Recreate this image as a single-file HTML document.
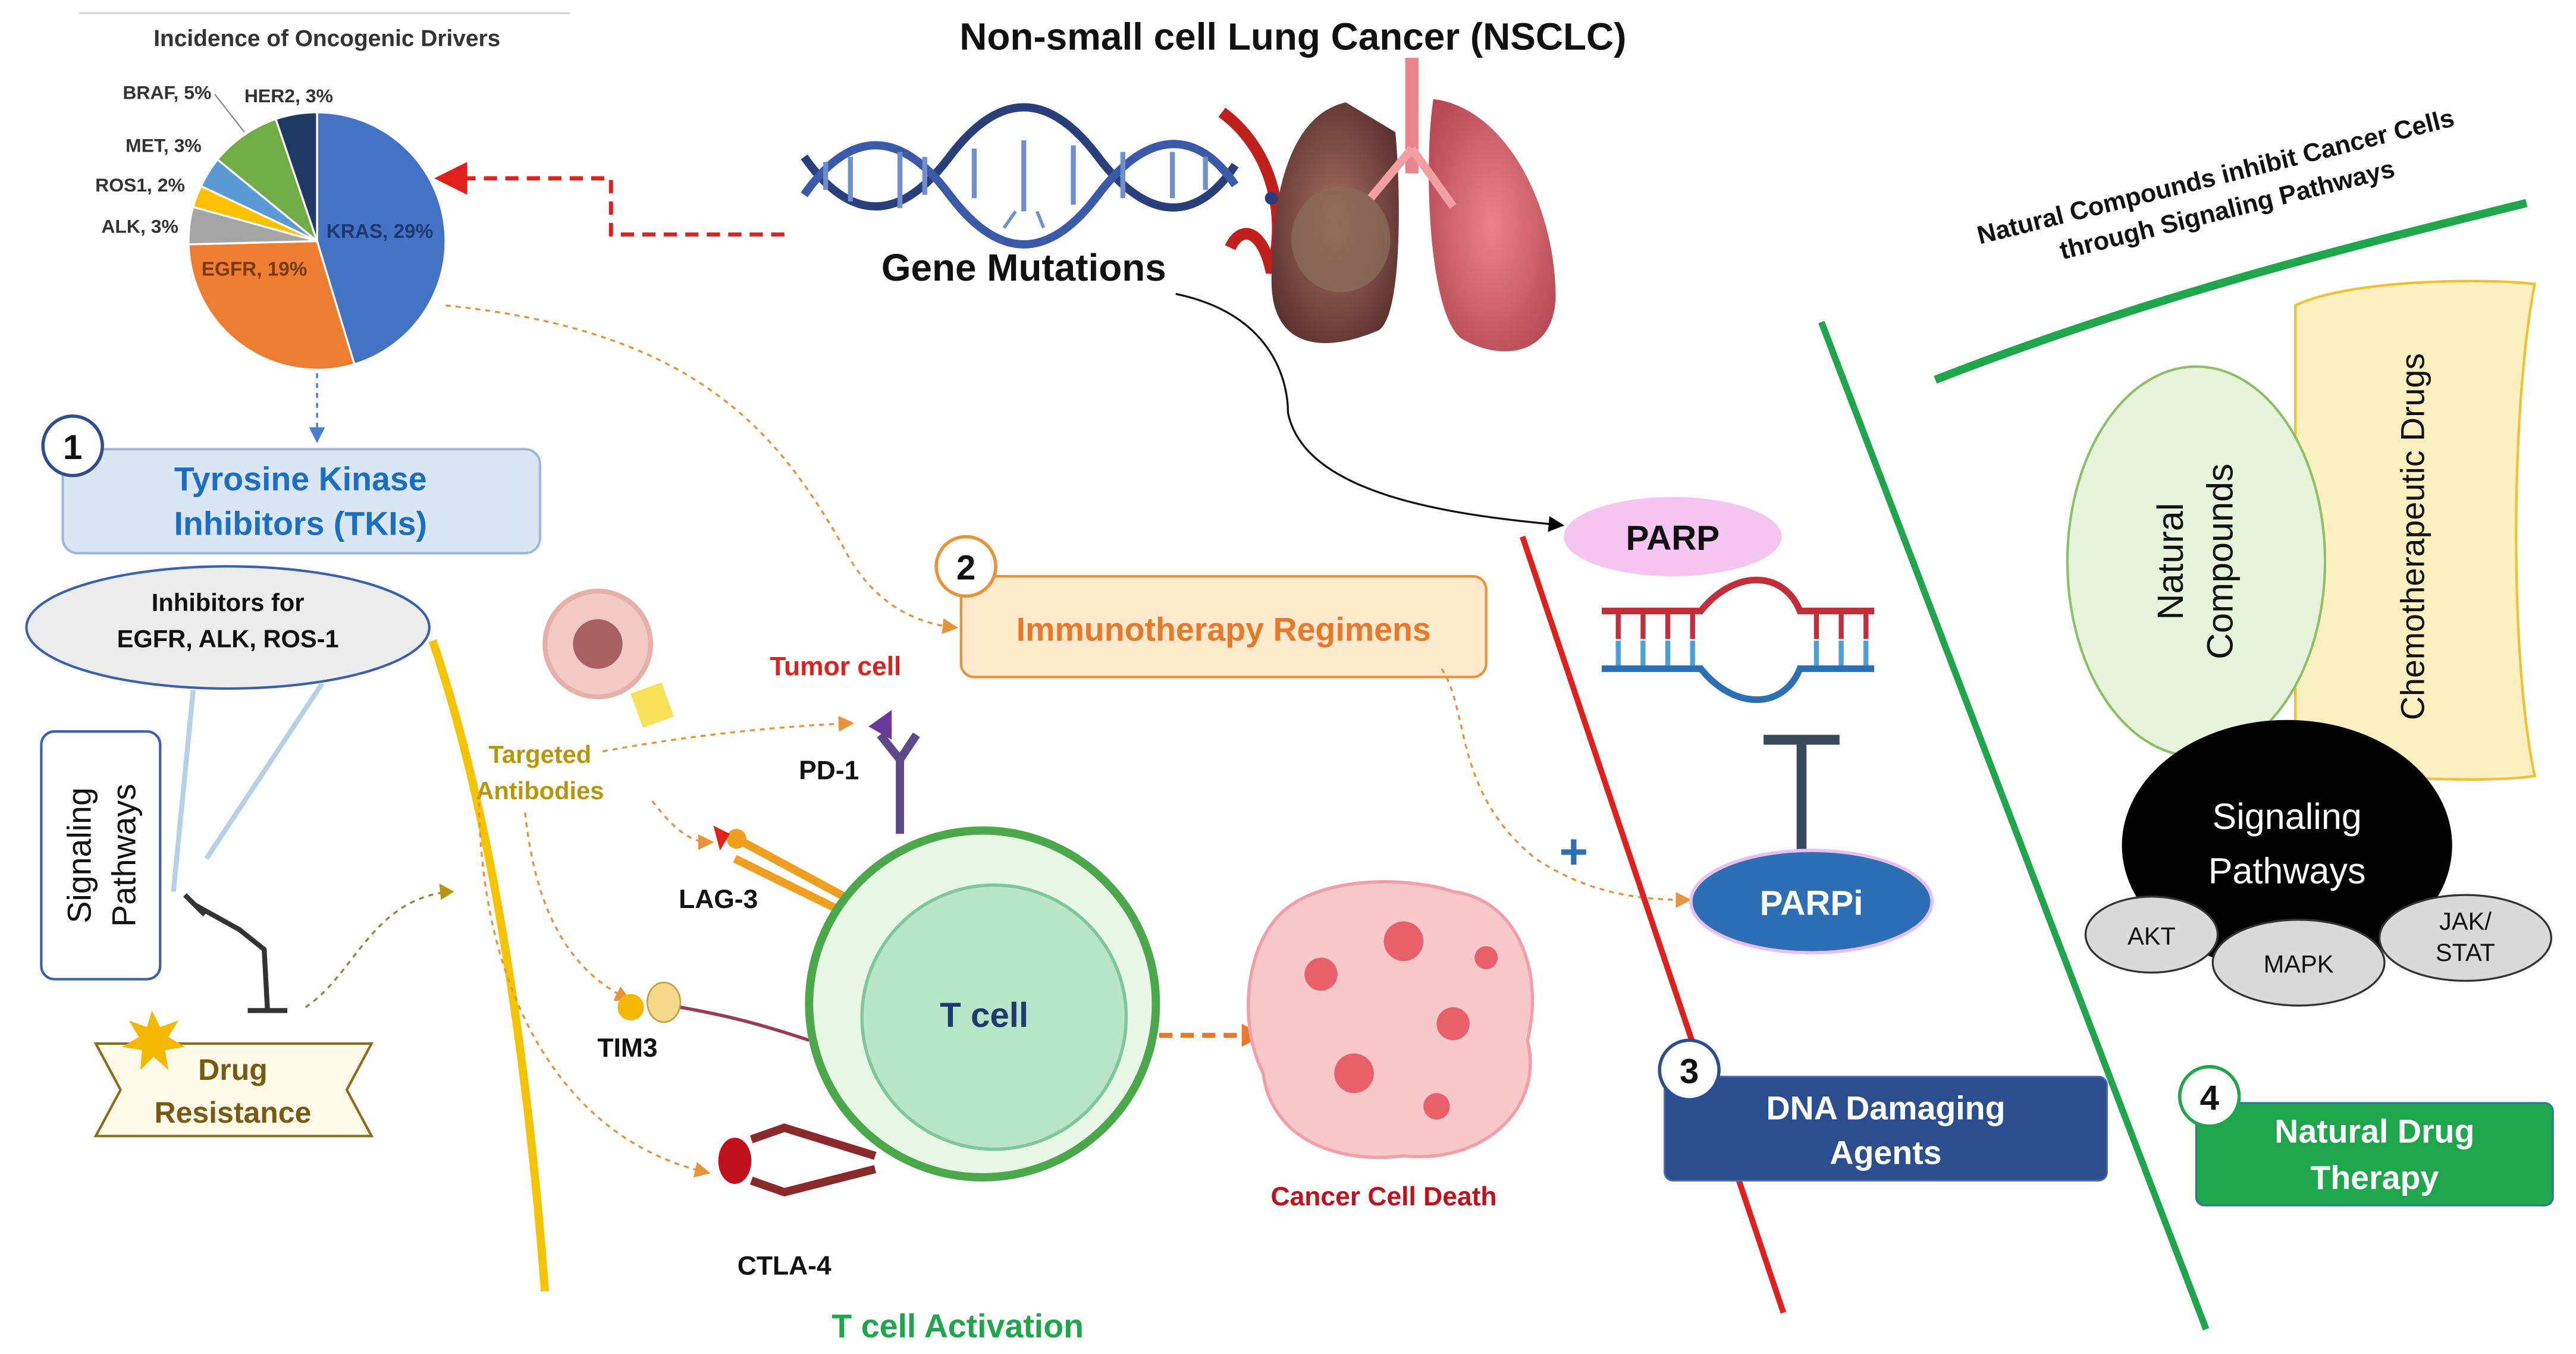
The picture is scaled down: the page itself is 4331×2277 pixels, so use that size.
<!DOCTYPE html>
<html><head><meta charset="utf-8"><style>
html,body{margin:0;padding:0;background:#fff;}
svg{display:block;}
text{font-family:"Liberation Sans",sans-serif;}
</style></head><body>
<svg width="4331" height="2277" viewBox="0 0 1560 820" preserveAspectRatio="none" xmlns="http://www.w3.org/2000/svg">
<defs>
<marker id="ar" markerWidth="8" markerHeight="8" refX="6" refY="4" orient="auto"><path d="M0,0 L8,4 L0,8 z" fill="#e0201c"/></marker>
<marker id="ao" markerWidth="8" markerHeight="8" refX="6" refY="4" orient="auto"><path d="M0,0 L8,4 L0,8 z" fill="#e8923a"/></marker>
<marker id="ab" markerWidth="8" markerHeight="8" refX="6" refY="4" orient="auto"><path d="M0,0 L8,4 L0,8 z" fill="#000"/></marker>
<marker id="abl" markerWidth="8" markerHeight="8" refX="6" refY="4" orient="auto"><path d="M0,0 L8,4 L0,8 z" fill="#4a7bd0"/></marker>
<radialGradient id="lung" cx="0.5" cy="0.5" r="0.6"><stop offset="0" stop-color="#e8848a"/><stop offset="1" stop-color="#b84a55"/></radialGradient>
<radialGradient id="lungd" cx="0.5" cy="0.5" r="0.6"><stop offset="0" stop-color="#a87060"/><stop offset="1" stop-color="#5a3030"/></radialGradient>
</defs>

<!-- pie title -->
<line x1="48" y1="8" x2="345" y2="8" stroke="#ccc" stroke-width="1"/>
<text x="198" y="28" font-size="14" font-weight="bold" text-anchor="middle" fill="#333">Incidence of Oncogenic Drivers</text>
<!-- pie -->
<g stroke="#fff" stroke-width="1.2">
<path d="M192,146 L192,68 A78,78 0 0 1 214.6,220.6 Z" fill="#4472c4"/>
<path d="M192,146 L214.6,220.6 A78,78 0 0 1 114.2,148.0 Z" fill="#ed7d31"/>
<path d="M192,146 L114.2,148 A78,78 0 0 1 116.9,125.3 Z" fill="#a5a5a5"/>
<path d="M192,146 L116.9,125.3 A78,78 0 0 1 121.8,112.7 Z" fill="#ffc000"/>
<path d="M192,146 L121.8,112.7 A78,78 0 0 1 131.7,96.6 Z" fill="#5b9bd5"/>
<path d="M192,146 L131.7,96.6 A78,78 0 0 1 167,72.1 Z" fill="#70ad47"/>
<path d="M192,146 L167,72.1 A78,78 0 0 1 192,68 Z" fill="#203864"/>
</g>
<text x="230" y="144" font-size="12" font-weight="bold" fill="#1f3a6e" text-anchor="middle">KRAS, 29%</text>
<text x="154" y="167" font-size="12" font-weight="bold" fill="#7a3a10" text-anchor="middle">EGFR, 19%</text>
<g font-size="11.5" font-weight="bold" fill="#333" text-anchor="end">
<text x="108" y="141">ALK, 3%</text>
<text x="112" y="116">ROS1, 2%</text>
<text x="122" y="92">MET, 3%</text>
<text x="128" y="60">BRAF, 5%</text>
</g>
<text x="148" y="62" font-size="11.5" font-weight="bold" fill="#333">HER2, 3%</text>
<line x1="130" y1="57" x2="148" y2="80" stroke="#888" stroke-width="0.8"/>

<!-- title -->
<text x="783" y="30" font-size="23" font-weight="bold" text-anchor="middle" fill="#111">Non-small cell Lung Cancer (NSCLC)</text>

<!-- DNA helix -->
<g fill="none" stroke-width="5">
<path d="M487,95 C515,135 545,135 575,95 S635,55 665,95 S725,135 748,100" stroke="#2b3f7a"/>
<path d="M487,118 C515,78 545,78 575,118 S635,158 665,118 S725,78 748,112" stroke="#3a5aa8"/>
</g>
<g stroke="#6f8fcf" stroke-width="3">
<line x1="500" y1="98" x2="500" y2="115"/><line x1="515" y1="95" x2="515" y2="122"/><line x1="545" y1="92" x2="545" y2="126"/><line x1="560" y1="95" x2="560" y2="118"/>
<line x1="590" y1="90" x2="590" y2="120"/><line x1="620" y1="85" x2="620" y2="128"/><line x1="650" y1="88" x2="650" y2="124"/><line x1="680" y1="92" x2="680" y2="120"/><line x1="710" y1="92" x2="710" y2="120"/><line x1="730" y1="95" x2="730" y2="115"/>
</g>
<line x1="615" y1="128" x2="608" y2="138" stroke="#6f8fcf" stroke-width="2"/><line x1="628" y1="128" x2="632" y2="138" stroke="#6f8fcf" stroke-width="2"/>
<text x="620" y="170" font-size="23" font-weight="bold" text-anchor="middle" fill="#111">Gene Mutations</text>

<!-- lungs -->
<path d="M740,68 C770,90 780,130 770,165 C765,140 752,135 745,150" fill="none" stroke="#c0201c" stroke-width="7"/>
<circle cx="770" cy="120" r="4" fill="#2b3f7a"/>
<rect x="851" y="35" width="8" height="70" fill="#e8848a"/>
<path d="M815,62 C780,70 770,120 770,170 C770,210 800,215 835,200 C850,190 848,110 845,80 Z" fill="url(#lungd)"/>
<path d="M868,60 C910,65 940,120 942,175 C944,215 910,220 885,205 C865,190 862,100 868,60 Z" fill="url(#lung)"/>
<path d="M855,90 L830,120 M855,90 L880,125" stroke="#f0a0a0" stroke-width="5" fill="none"/>
<ellipse cx="812" cy="145" rx="30" ry="32" fill="#8a6a58" opacity="0.8"/>

<!-- red dashed arrow -->
<path d="M475,142 L370,142 L370,108 L268,108" fill="none" stroke="#e0201c" stroke-width="2.5" stroke-dasharray="8,5" marker-end="url(#ar)"/>
<!-- blue dotted from pie -->
<line x1="192" y1="226" x2="192" y2="266" stroke="#4a7bd0" stroke-width="1.2" stroke-dasharray="3,3" marker-end="url(#abl)"/>

<!-- box 1 -->
<rect x="38" y="272" width="289" height="63" rx="9" fill="#dbe6f4" stroke="#9fb8d8" stroke-width="1.5"/>
<text x="182" y="297" font-size="20" font-weight="bold" text-anchor="middle" fill="#1a6fc4">Tyrosine Kinase</text>
<text x="182" y="324" font-size="20" font-weight="bold" text-anchor="middle" fill="#1a6fc4">Inhibitors (TKIs)</text>
<circle cx="44" cy="270" r="18" fill="#fff" stroke="#2b4e8f" stroke-width="2"/>
<text x="44" y="278" font-size="21" font-weight="bold" text-anchor="middle" fill="#111">1</text>

<!-- inhibitor ellipse -->
<ellipse cx="138" cy="380" rx="122" ry="37" fill="#ececec" stroke="#3a5fb0" stroke-width="1.5"/>
<text x="138" y="370" font-size="15" font-weight="bold" text-anchor="middle" fill="#111">Inhibitors for</text>
<text x="138" y="392" font-size="15" font-weight="bold" text-anchor="middle" fill="#111">EGFR, ALK, ROS-1</text>
<path d="M117,418 L105,540 M195,414 L125,520" stroke="#b8cfe8" stroke-width="3" fill="none"/>

<!-- signaling box -->
<rect x="25" y="443" width="72" height="150" rx="8" fill="#fff" stroke="#3a5fb0" stroke-width="1.5"/>
<text transform="translate(55,518) rotate(-90)" font-size="20" text-anchor="middle" fill="#111">Signaling</text>
<text transform="translate(82,518) rotate(-90)" font-size="20" text-anchor="middle" fill="#111">Pathways</text>
<path d="M118,548 L145,563 L160,575 L162,612" stroke="#333" stroke-width="3" fill="none"/>
<line x1="112" y1="542" x2="124" y2="554" stroke="#333" stroke-width="3"/>
<line x1="150" y1="612" x2="174" y2="612" stroke="#333" stroke-width="3"/>

<!-- drug resistance banner -->
<path d="M58,632 L225,632 L210,660 L225,688 L58,688 L73,660 Z" fill="#fffbe8" stroke="#8a6d1a" stroke-width="1.5"/>
<polygon points="92,612 97,622 108,618 102,628 112,634 100,636 102,648 93,640 85,648 86,636 74,634 84,628 78,618 89,622" fill="#f5b800"/>
<text x="141" y="654" font-size="18" font-weight="bold" text-anchor="middle" fill="#7a5a10">Drug</text>
<text x="141" y="680" font-size="18" font-weight="bold" text-anchor="middle" fill="#7a5a10">Resistance</text>
<path d="M185,610 C215,590 225,545 272,540" fill="none" stroke="#8a8a3a" stroke-width="1.2" stroke-dasharray="3,3"/>
<polygon points="275,540 266,535 267,545" fill="#b8960a"/>

<!-- yellow curve -->
<path d="M262,388 C300,500 320,650 330,782" fill="none" stroke="#f5c400" stroke-width="5"/>

<!-- orange dashed from pie to box 2 -->
<path d="M270,185 C420,200 470,260 510,330 C530,370 560,378 578,380" fill="none" stroke="#e8923a" stroke-width="1.2" stroke-dasharray="3,3" marker-end="url(#ao)"/>

<!-- box 2 -->
<rect x="582" y="349" width="318" height="61" rx="8" fill="#fde9cc" stroke="#e8923a" stroke-width="1.5"/>
<text x="741" y="388" font-size="20" font-weight="bold" text-anchor="middle" fill="#e8782a">Immunotherapy Regimens</text>
<circle cx="585" cy="343" r="18" fill="#fff" stroke="#e8923a" stroke-width="2"/>
<text x="585" y="351" font-size="21" font-weight="bold" text-anchor="middle" fill="#111">2</text>
<path d="M873,405 C890,430 880,480 930,520 C960,540 990,545 1022,545" fill="none" stroke="#e8923a" stroke-width="1.2" stroke-dasharray="3,3" marker-end="url(#ao)"/>

<!-- tumor cell -->
<circle cx="362" cy="390" r="32" fill="#f3c9c4" stroke="#e8b0aa" stroke-width="3"/>
<circle cx="362" cy="390" r="15" fill="#a86060"/>
<rect x="385" y="416" width="20" height="22" fill="#f7e25a" transform="rotate(-20 395 427)"/>
<text x="506" y="409" font-size="16" font-weight="bold" text-anchor="middle" fill="#e0201c">Tumor cell</text>

<text x="327" y="462" font-size="15" font-weight="bold" text-anchor="middle" fill="#b8960a">Targeted</text>
<text x="327" y="484" font-size="15" font-weight="bold" text-anchor="middle" fill="#b8960a">Antibodies</text>
<g fill="none" stroke="#e8923a" stroke-width="1.2" stroke-dasharray="3,3">
<path d="M365,455 C420,445 470,440 515,438" marker-end="url(#ao)"/>
<path d="M395,485 C410,505 420,510 430,510" marker-end="url(#ao)"/>
<path d="M318,492 C325,560 350,590 380,605" marker-end="url(#ao)"/>
<path d="M290,480 C290,600 340,690 428,710" marker-end="url(#ao)"/>
</g>

<!-- PD-1 -->
<text x="502" y="472" font-size="16" font-weight="bold" text-anchor="middle" fill="#111">PD-1</text>
<path d="M545,505 L545,460 L533,445 M545,460 L555,445" stroke="#5a4a8a" stroke-width="5" fill="none"/>
<polygon points="526,440 540,430 540,448" fill="#6a3a9a"/>
<!-- LAG-3 -->
<text x="435" y="550" font-size="16" font-weight="bold" text-anchor="middle" fill="#111">LAG-3</text>
<path d="M450,510 L515,545 M445,520 L510,552" stroke="#f0a020" stroke-width="5" fill="none"/>
<circle cx="446" cy="508" r="6" fill="#f0a020"/>
<polygon points="432,500 442,505 436,515" fill="#e0201c"/>
<!-- TIM3 -->
<text x="380" y="640" font-size="16" font-weight="bold" text-anchor="middle" fill="#111">TIM3</text>
<circle cx="382" cy="610" r="8" fill="#f5b800"/>
<ellipse cx="402" cy="607" rx="10" ry="12" fill="#f5d88a" stroke="#c8a040"/>
<path d="M412,610 C440,615 460,620 490,630" stroke="#9a3a5a" stroke-width="2" fill="none"/>
<!-- CTLA-4 -->
<text x="475" y="772" font-size="16" font-weight="bold" text-anchor="middle" fill="#111">CTLA-4</text>
<ellipse cx="445" cy="703" rx="10" ry="14" fill="#c0101c"/>
<path d="M455,690 L475,683 L530,700 M455,715 L475,722 L530,708" stroke="#8a2a2a" stroke-width="5" fill="none"/>

<!-- T cell -->
<circle cx="595" cy="608" r="105" fill="#e8f6e6" stroke="#4aa84a" stroke-width="5"/>
<circle cx="602" cy="616" r="80" fill="#b8e4c8" stroke="#7cc89a" stroke-width="2"/>
<text x="596" y="622" font-size="21" font-weight="bold" text-anchor="middle" fill="#1f3a6e">T cell</text>
<line x1="702" y1="627" x2="752" y2="627" stroke="#e8782a" stroke-width="3" stroke-dasharray="8,5"/>
<polygon points="765,627 752,620 752,634" fill="#e8782a"/>
<text x="580" y="810" font-size="20" font-weight="bold" text-anchor="middle" fill="#1fa64a">T cell Activation</text>

<!-- cancer cell death -->
<path d="M770,560 C790,530 850,530 880,540 C920,545 935,590 925,630 C935,670 900,705 850,700 C810,705 770,690 765,650 C750,620 755,580 770,560 Z" fill="#f8c8c8" stroke="#f0a0a8" stroke-width="2"/>
<circle cx="800" cy="590" r="10" fill="#e8606a"/><circle cx="850" cy="570" r="12" fill="#e8606a"/><circle cx="880" cy="620" r="10" fill="#e8606a"/><circle cx="820" cy="650" r="12" fill="#e8606a"/><circle cx="870" cy="670" r="8" fill="#e8606a"/><circle cx="900" cy="580" r="7" fill="#e8606a"/>
<text x="838" y="730" font-size="16" font-weight="bold" text-anchor="middle" fill="#c0101c">Cancer Cell Death</text>

<!-- black arrow from gene mutations to PARP -->
<path d="M712,178 C770,190 780,230 780,250 C790,300 880,312 945,318" fill="none" stroke="#111" stroke-width="1.2" marker-end="url(#ab)"/>

<!-- red line -->
<line x1="922" y1="325" x2="1080" y2="795" stroke="#e0201c" stroke-width="3.5"/>

<!-- PARP -->
<ellipse cx="1013" cy="325" rx="66" ry="24" fill="#f5c6f0"/>
<text x="1013" y="333" font-size="21" font-weight="bold" text-anchor="middle" fill="#111">PARP</text>
<g stroke-width="4" fill="none">
<path d="M970,370 L1030,370 C1050,345 1080,345 1090,370 L1135,370" stroke="#c0303a"/>
<path d="M970,405 L1030,405 C1050,430 1080,430 1090,405 L1135,405" stroke="#2b6fb5"/>
</g>
<g stroke-width="3">
<line x1="980" y1="372" x2="980" y2="387" stroke="#c0303a"/><line x1="980" y1="388" x2="980" y2="403" stroke="#4aa0d8"/>
<line x1="995" y1="372" x2="995" y2="387" stroke="#c0303a"/><line x1="995" y1="388" x2="995" y2="403" stroke="#4aa0d8"/>
<line x1="1010" y1="372" x2="1010" y2="387" stroke="#c0303a"/><line x1="1010" y1="388" x2="1010" y2="403" stroke="#4aa0d8"/>
<line x1="1025" y1="372" x2="1025" y2="387" stroke="#c0303a"/><line x1="1025" y1="388" x2="1025" y2="403" stroke="#4aa0d8"/>
<line x1="1100" y1="372" x2="1100" y2="387" stroke="#c0303a"/><line x1="1100" y1="388" x2="1100" y2="403" stroke="#4aa0d8"/>
<line x1="1115" y1="372" x2="1115" y2="387" stroke="#c0303a"/><line x1="1115" y1="388" x2="1115" y2="403" stroke="#4aa0d8"/>
<line x1="1130" y1="372" x2="1130" y2="387" stroke="#c0303a"/><line x1="1130" y1="388" x2="1130" y2="403" stroke="#4aa0d8"/>
</g>
<line x1="1091" y1="450" x2="1091" y2="515" stroke="#3a4a5a" stroke-width="6"/>
<line x1="1068" y1="448" x2="1114" y2="448" stroke="#3a4a5a" stroke-width="6"/>
<ellipse cx="1097" cy="546" rx="73" ry="31" fill="#2d6fb5" stroke="#e8c0f0" stroke-width="2"/>
<text x="1097" y="554" font-size="21" font-weight="bold" text-anchor="middle" fill="#fff">PARPi</text>
<text x="953" y="526" font-size="30" font-weight="bold" text-anchor="middle" fill="#2d6fb5">+</text>

<!-- box 3 -->
<rect x="1008" y="652" width="268" height="63" rx="5" fill="#2b4e8f" stroke="#4a6ab0"/>
<text x="1142" y="678" font-size="20" font-weight="bold" text-anchor="middle" fill="#fff">DNA Damaging</text>
<text x="1142" y="705" font-size="20" font-weight="bold" text-anchor="middle" fill="#fff">Agents</text>
<circle cx="1023" cy="648" r="18" fill="#fff" stroke="#2b4e8f" stroke-width="2"/>
<text x="1023" y="656" font-size="21" font-weight="bold" text-anchor="middle" fill="#111">3</text>

<!-- green lines -->
<line x1="1103" y1="195" x2="1336" y2="805" stroke="#1fa64a" stroke-width="4"/>
<path d="M1172,230 C1300,180 1420,150 1530,123" stroke="#1fa64a" stroke-width="5" fill="none"/>
<text transform="translate(1343,112) rotate(-14)" font-size="15.5" font-weight="bold" text-anchor="middle" fill="#111">Natural Compounds inhibit Cancer Cells</text>
<text transform="translate(1350,132) rotate(-14)" font-size="15.5" font-weight="bold" text-anchor="middle" fill="#111">through Signaling Pathways</text>

<!-- cylinder -->
<path d="M1390,185 C1420,170 1500,168 1535,172 C1520,250 1520,400 1535,470 C1500,475 1420,470 1390,465 Z" fill="#fdf0c0" stroke="#f0c030" stroke-width="1.5"/>
<text transform="translate(1468,325) rotate(-90)" font-size="20" text-anchor="middle" fill="#111">Chemotherapeutic Drugs</text>

<!-- natural compounds -->
<ellipse cx="1330" cy="340" rx="78" ry="118" fill="#e8f3dc" stroke="#8cc063" stroke-width="1.5"/>
<text transform="translate(1322,340) rotate(-90)" font-size="22" text-anchor="middle" fill="#111">Natural</text>
<text transform="translate(1352,340) rotate(-90)" font-size="22" text-anchor="middle" fill="#111">Compounds</text>

<!-- signaling black -->
<ellipse cx="1385" cy="512" rx="100" ry="76" fill="#000"/>
<text x="1385" y="502" font-size="22" text-anchor="middle" fill="#fff">Signaling</text>
<text x="1385" y="535" font-size="22" text-anchor="middle" fill="#fff">Pathways</text>
<ellipse cx="1303" cy="566" rx="40" ry="23" fill="#d9d9d9" stroke="#333" stroke-width="1.2"/>
<text x="1303" y="572" font-size="15" text-anchor="middle" fill="#111">AKT</text>
<ellipse cx="1392" cy="583" rx="52" ry="26" fill="#d9d9d9" stroke="#333" stroke-width="1.2"/>
<text x="1392" y="589" font-size="15" text-anchor="middle" fill="#111">MAPK</text>
<ellipse cx="1493" cy="568" rx="52" ry="26" fill="#d9d9d9" stroke="#333" stroke-width="1.2"/>
<text x="1493" y="563" font-size="15" text-anchor="middle" fill="#111">JAK/</text>
<text x="1493" y="582" font-size="15" text-anchor="middle" fill="#111">STAT</text>

<!-- box 4 -->
<rect x="1330" y="668" width="216" height="62" rx="5" fill="#1fa64a" stroke="#2b7a9a" stroke-width="1.2"/>
<text x="1438" y="692" font-size="20" font-weight="bold" text-anchor="middle" fill="#fff">Natural Drug</text>
<text x="1438" y="720" font-size="20" font-weight="bold" text-anchor="middle" fill="#fff">Therapy</text>
<circle cx="1338" cy="664" r="18" fill="#fff" stroke="#1fa64a" stroke-width="2"/>
<text x="1338" y="672" font-size="21" font-weight="bold" text-anchor="middle" fill="#111">4</text>
</svg>
</body></html>
